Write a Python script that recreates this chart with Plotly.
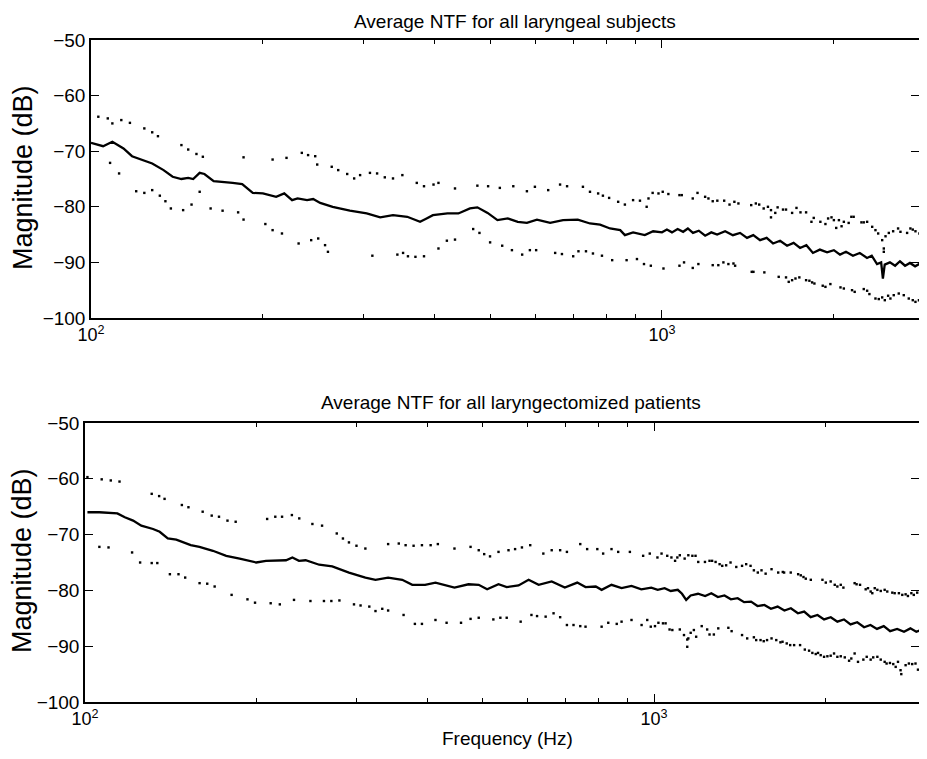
import plotly.graph_objects as go

# ---- top panel: laryngeal subjects ----
lar_f = [100, 105, 109, 114, 118, 123, 128, 134, 139, 144, 148, 151, 155, 158, 164, 177, 184, 192, 200,
         211, 218, 225, 230, 239, 245, 252, 265, 284, 304, 321, 338, 358, 377, 387, 397, 421, 440, 461,
         475, 495, 515, 537, 559, 580, 604, 637, 671, 712, 748, 779, 811, 845, 861, 890, 933, 965,
         1000, 1020, 1041, 1065, 1089, 1110, 1133, 1160, 1190, 1220, 1249, 1290, 1331, 1370, 1409, 1445,
         1485, 1525, 1565, 1610, 1656, 1700, 1745, 1790, 1838, 1890, 1946, 2000, 2050, 2100, 2160, 2220,
         2286, 2330, 2380, 2420, 2437, 2455, 2507, 2560, 2611, 2665, 2718, 2775, 2830, 2870, 2910]
lar_mean = [-68.5, -69.1, -68.3, -69.5, -70.9, -71.6, -72.2, -73.4, -74.6, -75.0, -74.8, -75.0, -73.9,
            -74.1, -75.4, -75.7, -75.9, -77.5, -77.6, -78.2, -77.6, -78.8, -78.5, -78.8, -78.6, -79.3,
            -80.0, -80.7, -81.2, -81.9, -81.5, -81.8, -82.7, -82.1, -81.5, -81.2, -81.2, -80.3, -80.1,
            -81.1, -82.4, -82.1, -82.7, -82.9, -82.3, -82.9, -82.4, -82.3, -83.0, -83.2, -83.9, -84.2,
            -85.1, -84.6, -85.1, -84.4, -84.6, -84.1, -84.6, -84.0, -84.5, -83.9, -84.7, -84.3, -85.2,
            -84.6, -85.0, -84.4, -85.1, -84.7, -85.6, -85.1, -86.0, -85.6, -86.6, -86.1, -87.0, -86.5,
            -87.4, -86.9, -88.3, -87.7, -88.2, -87.8, -88.6, -88.1, -88.8, -88.3, -89.2, -88.8, -90.3,
            -90.0, -92.9, -90.4, -90.0, -90.6, -89.8, -90.6, -90.1, -90.7, -90.2, -90.8, -90.4]

lar_up_f = [103, 107, 109, 113, 117, 124, 128, 131, 144, 148, 153, 157, 185, 208, 220, 234, 240, 247,
            249, 264, 271, 281, 289, 296, 308, 317, 327, 338, 351, 372, 383, 398, 406, 434, 475, 496,
            520, 549, 580, 599, 632, 663, 682, 727, 748, 773, 788, 808, 838, 861, 890,
            915, 940, 947, 963, 986, 1003, 1026, 1073, 1083, 1132, 1154, 1190, 1206, 1227, 1250, 1285,
            1313, 1339, 1361, 1433, 1460, 1480, 1507, 1533, 1552, 1552, 1579, 1594, 1629,
            1649, 1690, 1720, 1748, 1788, 1827, 1844, 1894, 1933, 1954, 1981, 2000, 2019, 2041, 2063,
            2082, 2123, 2146, 2166, 2235, 2256, 2287, 2334, 2365, 2391, 2430, 2446, 2446, 2463, 2496,
            2540, 2591, 2616, 2687, 2723, 2749, 2779, 2824, 2855, 2894]
lar_up = [-63.8, -64.1, -65.0, -64.4, -64.9, -65.9, -66.6, -67.3, -68.9, -69.7, -70.5, -71.0, -71.1,
          -71.5, -71.2, -70.3, -70.7, -70.9, -72.4, -72.8, -73.4, -74.1, -74.9, -74.3, -73.9, -74.0,
          -74.7, -74.9, -74.3, -75.7, -76.3, -76.0, -75.7, -76.7, -76.2, -76.3, -76.6, -76.3, -77.2,
          -76.4, -77.0, -76.0, -76.3, -76.4, -77.3, -77.6, -78.0, -78.4, -79.1, -79.6, -78.8,
          -78.9, -80.0, -78.5, -77.5, -77.6, -77.3, -77.7, -77.9, -77.9, -78.5, -77.5, -78.2, -78.5,
          -79.0, -78.9, -78.9, -79.6, -79.1, -79.4, -79.7, -79.4, -79.6, -80.3, -80.0, -80.6, -81.9,
          -81.1, -80.1, -80.5,
          -80.5, -81.1, -80.2, -81.0, -81.0, -82.7, -82.0, -82.7, -83.1, -82.1, -81.9, -82.4, -83.8,
          -82.4, -83.5, -82.7, -82.9, -81.8, -81.8, -82.8, -82.8, -82.7, -83.6, -84.2, -84.8, -86.0,
          -87.5, -88.1, -85.3, -84.7, -84.4, -83.9, -84.5, -84.7, -83.9, -84.1, -84.4, -84.8, -84.5,
          -84.3]

lar_lo_f = [108, 112, 120, 124, 128, 132, 135, 138, 145, 150, 155, 162, 170, 181, 185, 202, 208, 216,
            231, 243, 250, 257, 260, 311, 344, 352, 359, 370, 383, 406, 420, 434, 467, 479, 500, 525,
            546, 569, 587, 602, 650, 668, 699, 714, 736, 757, 785, 818, 867, 904,
            930, 956, 1006, 1073, 1093, 1132, 1158, 1227, 1255, 1281, 1307, 1334, 1343, 1436, 1446,
            1511, 1601,
            1649, 1667, 1690, 1713, 1740, 1788, 1812, 1832, 1849, 1912, 1933, 1972, 2054, 2082, 2152,
            2175, 2256, 2287, 2308, 2365, 2397, 2430, 2456, 2489, 2512, 2546, 2598, 2651, 2705, 2749,
            2779, 2818, 2855, 2894]
lar_lo = [-72.1, -74.0, -77.2, -77.5, -77.0, -78.0, -79.0, -80.3, -80.6, -79.6, -77.3, -80.3, -80.7,
          -81.0, -82.3, -83.1, -84.2, -84.8, -86.6, -86.0, -85.7, -86.9, -88.1, -88.8, -88.6, -88.3,
          -88.9, -89.0, -88.9, -87.5, -86.1, -85.9, -84.0, -84.7, -86.4, -87.0, -87.8, -88.6, -87.8,
          -87.8, -88.3, -88.5, -88.9, -88.0, -88.0, -88.4, -88.8, -89.6, -89.6, -89.4,
          -90.3, -90.6, -91.1, -90.6, -90.0, -91.0, -90.3, -90.5, -90.5, -90.0, -90.3, -90.2, -90.6,
          -91.7, -91.7, -91.8, -92.6,
          -92.7, -93.5, -93.2, -92.9, -92.7, -93.2, -93.3, -93.6, -93.8, -94.2, -94.4, -93.9, -94.5,
          -94.7, -95.0, -95.3, -94.8, -95.1, -95.7, -96.5, -96.6, -96.3, -96.8, -96.0, -96.5, -95.9,
          -95.6, -95.9, -96.5, -96.8, -97.1, -96.8, -96.5, -96.2]

# ---- bottom panel: laryngectomized patients ----
lx_f = [101, 106, 114, 117.5, 121.5, 125.6, 131.7, 135.3, 139.8, 144.7, 153.4, 158.9, 167.8, 177.1,
        187, 200, 208, 220, 225.6, 231.5, 237.7, 244.2, 252.6, 258, 272, 291, 311, 324, 341, 361,
        376, 396, 413, 429, 446, 472, 492, 509, 533, 551, 578, 602, 627, 661, 697, 733, 758, 790,
        809, 842, 877, 913, 950, 989, 1015, 1044, 1070, 1101, 1120, 1139, 1160, 1195, 1230, 1261,
        1295, 1330, 1365, 1403, 1440, 1481, 1520, 1563, 1605, 1649, 1695, 1740, 1790, 1836, 1885,
        1938, 1990, 2045, 2100, 2157, 2215, 2276, 2340, 2401, 2465, 2534, 2600, 2675, 2750, 2822,
        2890, 2958, 3001]
lx_mean = [-66.0, -66.0, -66.2, -66.9, -67.5, -68.4, -69.0, -69.5, -70.7, -70.9, -71.9, -72.2, -72.9,
           -73.8, -74.3, -75.0, -74.7, -74.6, -74.6, -74.1, -74.7, -74.6, -75.1, -75.4, -75.7, -76.8,
           -77.7, -78.1, -77.7, -78.1, -79.0, -79.0, -78.6, -79.0, -79.5, -78.9, -79.0, -79.8, -78.9,
           -79.4, -79.1, -78.1, -79.0, -78.4, -79.5, -78.6, -79.4, -79.3, -79.9, -79.0, -79.6, -79.2,
           -79.8, -79.5, -79.9, -79.6, -80.1, -79.9, -80.6, -81.7, -80.9, -80.6, -81.0, -80.5, -81.2,
           -80.9, -81.6, -81.4, -82.1, -82.0, -82.8, -82.6, -83.3, -82.9, -83.6, -83.2, -84.1, -83.8,
           -84.8, -84.4, -85.2, -84.8, -85.6, -85.2, -86.1, -85.7, -86.6, -86.2, -86.9, -86.4, -87.3,
           -86.9, -87.4, -86.8, -87.4, -87.0, -86.8]

lx_up_f = [101, 107, 111, 115, 131, 135, 138, 148, 152, 161, 167, 172, 178, 184, 209, 216, 222, 231,
           238, 251, 261, 277, 284, 291, 300, 311, 341, 356, 366, 378, 391, 405, 417, 446, 476, 492,
           503, 515, 533, 555, 570, 586, 606, 639, 661, 684, 703, 742, 763, 795, 814, 842, 865, 907,
           957, 983, 1014, 1031, 1055, 1073, 1089, 1099, 1110, 1132, 1149, 1168, 1183, 1196, 1229,
           1252, 1265, 1283, 1304, 1318, 1339, 1363, 1395, 1428, 1452, 1478, 1498, 1522, 1545, 1571,
           1609, 1653, 1684,
           1693, 1739, 1792, 1811, 1831, 1848, 1886, 1977, 2004, 2044, 2078, 2100, 2129, 2152, 2252,
           2270, 2302, 2355, 2377, 2403, 2419, 2443, 2469, 2503, 2543, 2570, 2623, 2648, 2694, 2731,
           2768, 2794, 2833, 2861, 2901, 2942, 2983]
lx_up = [-59.7, -60.1, -60.3, -60.5, -62.7, -63.1, -63.6, -64.7, -65.1, -65.9, -66.6, -66.8, -67.5,
         -67.7, -67.2, -66.8, -66.8, -66.5, -67.1, -68.1, -68.4, -69.8, -70.7, -71.4, -72.0, -72.5,
         -71.7, -71.6, -71.9, -72.0, -71.9, -71.9, -71.7, -72.5, -72.2, -72.8, -73.5, -73.9, -73.1,
         -72.8, -72.6, -72.3, -71.9, -73.4, -72.8, -72.8, -73.1, -71.7, -72.6, -72.6, -73.4, -72.6,
         -73.1, -73.1,
         -73.8, -73.4, -74.1, -73.4, -73.8, -74.1, -74.7, -74.1, -73.7, -74.3, -73.7, -73.8, -73.8,
         -74.9, -74.9, -74.7, -74.7, -74.9, -75.3, -75.6, -75.5, -75.0, -75.8, -75.6, -75.3, -75.6,
         -76.4, -76.8, -76.4, -77.0, -76.2, -76.8, -76.7,
         -76.8, -76.8, -77.1, -77.3, -77.6, -77.9, -78.1, -78.1, -78.6, -78.4, -79.0, -79.3, -79.0,
         -79.5, -78.7, -78.9, -79.0, -79.8, -79.6, -80.2, -80.5, -79.6, -79.9, -80.1, -79.9, -80.2,
         -80.4, -80.5, -80.5, -80.8, -80.7, -81.0, -80.5, -80.8, -80.4, -80.5, -80.2]

lx_lo_f = [106, 110, 121, 125, 131, 134, 141, 146, 150, 159, 164, 169, 181, 193, 199, 212, 220, 233,
           249, 263, 271, 280, 297, 305, 316, 324, 333, 341, 363, 380, 391, 413, 432, 458, 476, 492,
           522, 537, 551, 583, 609, 623, 645, 666, 684, 703, 722, 742, 758, 809, 831, 860, 877, 913,
           951, 973, 987, 1004, 1018, 1037, 1048, 1065, 1077, 1110, 1129, 1144, 1149, 1144, 1160,
           1175, 1186, 1213, 1240, 1252, 1274, 1297, 1351, 1369, 1428, 1458, 1498, 1512, 1539, 1559,
           1580, 1609, 1640, 1668,
           1682, 1711, 1735, 1763, 1806, 1841, 1873, 1898, 1924, 1942, 1963, 1990, 2017, 2044, 2072,
           2100, 2129, 2164, 2202, 2222, 2252, 2283, 2333, 2365, 2403, 2428, 2469, 2503, 2543, 2563,
           2598, 2633, 2659, 2684, 2712, 2720, 2768, 2805, 2843, 2881, 2910, 2961, 3001]
lx_lo = [-72.2, -72.3, -73.2, -75.0, -75.1, -75.1, -77.1, -77.1, -77.7, -78.7, -78.8, -79.3, -80.8,
         -81.6, -82.2, -82.3, -82.5, -81.7, -81.9, -81.9, -81.9, -81.8, -82.5, -82.7, -82.9, -83.7,
         -83.3, -83.6, -84.4, -86.0, -86.0, -85.3, -85.8, -85.8, -85.1, -84.9, -85.2, -84.9, -84.9,
         -85.6, -84.4, -84.6, -84.7, -84.1, -84.8, -86.2, -86.2, -86.4, -86.5, -86.5, -85.8, -86.0,
         -85.6, -85.3,
         -86.2, -85.3, -86.5, -86.4, -85.8, -85.9, -85.9, -87.0, -87.1, -87.0, -88.0, -88.8, -88.6,
         -90.1, -87.6, -87.1, -88.3, -86.4, -87.0, -87.9, -87.9, -86.8, -86.7, -87.3, -88.0, -88.6,
         -88.4, -88.9, -88.9, -89.1, -88.9, -88.6, -88.9, -89.3,
         -89.2, -89.5, -89.8, -89.8, -89.8, -90.6, -90.8, -91.2, -91.4, -91.2, -91.6, -91.9, -91.8,
         -91.7, -91.3, -91.9, -91.8, -92.0, -92.6, -92.2, -91.3, -92.8, -92.4, -91.9, -92.4, -92.0,
         -91.9, -92.4, -92.8, -93.1, -93.0, -93.2, -93.7, -92.8, -94.3, -95.0, -93.4, -93.1, -93.2,
         -93.1, -94.2, -93.4, -93.6]

major_ticks = [100, 1000]
major_text = ["10<sup>2</sup>", "10<sup>3</sup>"]
minor_ticks = [200, 300, 400, 500, 600, 700, 800, 900, 2000]

FONT = "Liberation Sans, Arial, Helvetica, sans-serif"

fig = go.Figure()


def add_panel(f, mean, fu, up, fl, lo, xa, ya):
    fig.add_trace(go.Scatter(x=fu, y=up, mode="markers", xaxis=xa, yaxis=ya,
                             marker=dict(color="black", size=2.4, symbol="square"), showlegend=False))
    fig.add_trace(go.Scatter(x=fl, y=lo, mode="markers", xaxis=xa, yaxis=ya,
                             marker=dict(color="black", size=2.4, symbol="square"), showlegend=False))
    fig.add_trace(go.Scatter(x=f, y=mean, mode="lines", xaxis=xa, yaxis=ya,
                             line=dict(color="black", width=2.3), showlegend=False))


add_panel(lar_f, lar_mean, lar_up_f, lar_up, lar_lo_f, lar_lo, "x", "y")
add_panel(lx_f, lx_mean, lx_up_f, lx_up, lx_lo_f, lx_lo, "x2", "y2")

xstyle = dict(type="log", showline=True, linecolor="black", linewidth=1.5, mirror="allticks",
              ticks="inside", ticklen=8, tickwidth=1.2, tickcolor="black", automargin=False,
              tickvals=major_ticks, ticktext=major_text, showgrid=False, zeroline=False,
              tickfont=dict(size=18, color="black", family=FONT),
              minor=dict(ticks="inside", ticklen=4, tickwidth=1.2, tickcolor="black",
                         tickmode="array", tickvals=minor_ticks, showgrid=False))
ystyle = dict(range=[-100, -50], dtick=10, showline=True, linecolor="black", linewidth=1.5,
              mirror="allticks", ticks="inside", ticklen=8, tickwidth=1.2, tickcolor="black",
              automargin=False, showgrid=False, zeroline=False,
              tickfont=dict(size=19, color="black", family=FONT))

# the page body adds 8px round the figure, so the figure is 16px smaller than the window
fig.update_layout(
    width=911, height=743,
    margin=dict(l=0, r=0, t=0, b=0),
    paper_bgcolor="white", plot_bgcolor="white",
    font=dict(family=FONT, color="black"),
    xaxis=dict(xstyle, domain=[0.0911, 1.0], range=[2, 3.4501], anchor="y"),
    yaxis=dict(ystyle, domain=[0.5828, 0.9569], anchor="x"),
    xaxis2=dict(xstyle, domain=[0.0845, 1.0], range=[2, 3.4657], anchor="y2"),
    yaxis2=dict(ystyle, domain=[0.0659, 0.4415], anchor="x2"),
)

ann = dict(xref="paper", yref="paper", showarrow=False, xanchor="center", yanchor="middle",
           font=dict(family=FONT, color="black"))
fig.add_annotation(ann, text="Average NTF for all laryngeal subjects", x=0.5565, y=0.9825,
                   font_size=19)
fig.add_annotation(ann, text="Average NTF for all laryngectomized patients", x=0.5521, y=0.4684,
                   font_size=19)
fig.add_annotation(ann, text="Frequency (Hz)", x=0.5478, y=0.0165, font_size=19)
fig.add_annotation(ann, text="Magnitude (dB)", x=0.0165, y=0.7712, textangle=-90, font_size=27)
fig.add_annotation(ann, text="Magnitude (dB)", x=0.0154, y=0.2557, textangle=-90, font_size=27)

fig.write_html("out.html")
